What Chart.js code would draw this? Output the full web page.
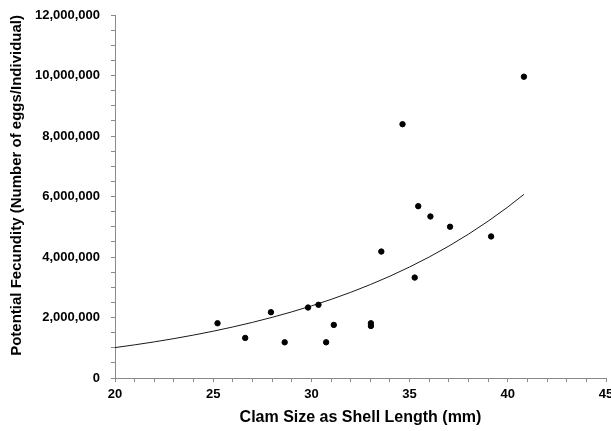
<!DOCTYPE html>
<html><head><meta charset="utf-8">
<script src="https://cdn.jsdelivr.net/npm/chart.js@4/dist/chart.umd.min.js"></script>
<style>html,body{margin:0;padding:0;background:#fff}#wrap{width:611px;height:431px}</style>
</head><body><div id="wrap"><canvas id="c" width="611" height="431"></canvas></div>
<script>
// Observed data: shell length (mm) vs potential fecundity (eggs/individual)
const shellLength = [25.22, 26.63, 27.94, 28.64, 29.83, 30.36, 30.75, 31.14, 33.03, 33.03, 33.56, 34.64, 35.26, 35.44, 36.06, 37.06, 39.15, 40.82];
const fecundity = [1810000, 1325000, 2175000, 1180000, 2330000, 2420000, 1180000, 1755000, 1810000, 1720000, 4180000, 8390000, 3320000, 5680000, 5340000, 5000000, 4680000, 9960000];
// Trendline values
const trendX = [20, 21, 22, 23, 24, 25, 26, 27, 28, 29, 30, 31, 32, 33, 34, 35, 36, 37, 38, 39, 40, 40.82];
const trendY = [1005000, 1096000, 1194000, 1302000, 1419000, 1547000, 1687000, 1839000, 2005000, 2186000, 2383000, 2598000, 2832000, 3088000, 3366000, 3670000, 4001000, 4362000, 4756000, 5185000, 5652000, 6070000];
const xTitle = 'Clam Size as Shell Length (mm)';
const yTitle = 'Potential Fecundity (Number of eggs/Individual)';

const pts = shellLength.map((x, i) => ({x: x, y: fecundity[i]}));
const trend = trendX.map((x, i) => ({x: x, y: trendY[i]}));
const FONT = "'Liberation Sans', Arial, sans-serif";
const axisColor = '#8a8a8a';

new Chart(document.getElementById('c'), {
  type: 'scatter',
  data: {datasets: [
    {data: trend, showLine: true, borderColor: '#1a1a1a', borderWidth: 1, pointRadius: 0, fill: false, order: 2},
    {data: pts, backgroundColor: '#000', borderColor: '#000', pointRadius: 2.7, pointHoverRadius: 2.7, order: 1}
  ]},
  options: {
    responsive: false, animation: false, devicePixelRatio: 1,
    layout: {padding: {top: 15, right: 5, bottom: 0, left: 0}},
    plugins: {legend: {display: false}, tooltip: {enabled: false}},
    scales: {
      x: {
        type: 'linear', min: 20, max: 45,
        border: {display: true, color: axisColor, width: 1},
        grid: {display: true, drawOnChartArea: false, drawTicks: true, tickLength: 4, color: axisColor},
        ticks: {stepSize: 1, autoSkip: false, maxRotation: 0, padding: 5, color: '#000',
          font: {family: FONT, size: 13, weight: 'bold'},
          callback: v => (v % 5 === 0 ? String(v) : '')},
        title: {display: true, text: xTitle, color: '#000', padding: {top: 4, bottom: 4},
          font: {family: FONT, size: 16, weight: 'bold'}},
        afterFit: s => { s.height = 53; s.paddingLeft = 0; s.paddingRight = 0; }
      },
      y: {
        type: 'linear', min: 0, max: 12000000,
        border: {display: true, color: axisColor, width: 1},
        grid: {display: true, drawOnChartArea: false, drawTicks: true, tickLength: 4, color: axisColor},
        ticks: {stepSize: 500000, autoSkip: false, padding: 11, color: '#000',
          font: {family: FONT, size: 13, weight: 'bold'},
          callback: v => (v % 2000000 === 0 ? v.toLocaleString('en-US') : '')},
        title: {display: true, text: yTitle, align: 'end', color: '#000', padding: {top: 8, bottom: 0},
          font: {family: FONT, size: 15, weight: 'bold'}},
        afterFit: s => { s.width = 115; s.paddingTop = 0; s.paddingBottom = 0; }
      }
    }
  }
});
</script></body></html>
